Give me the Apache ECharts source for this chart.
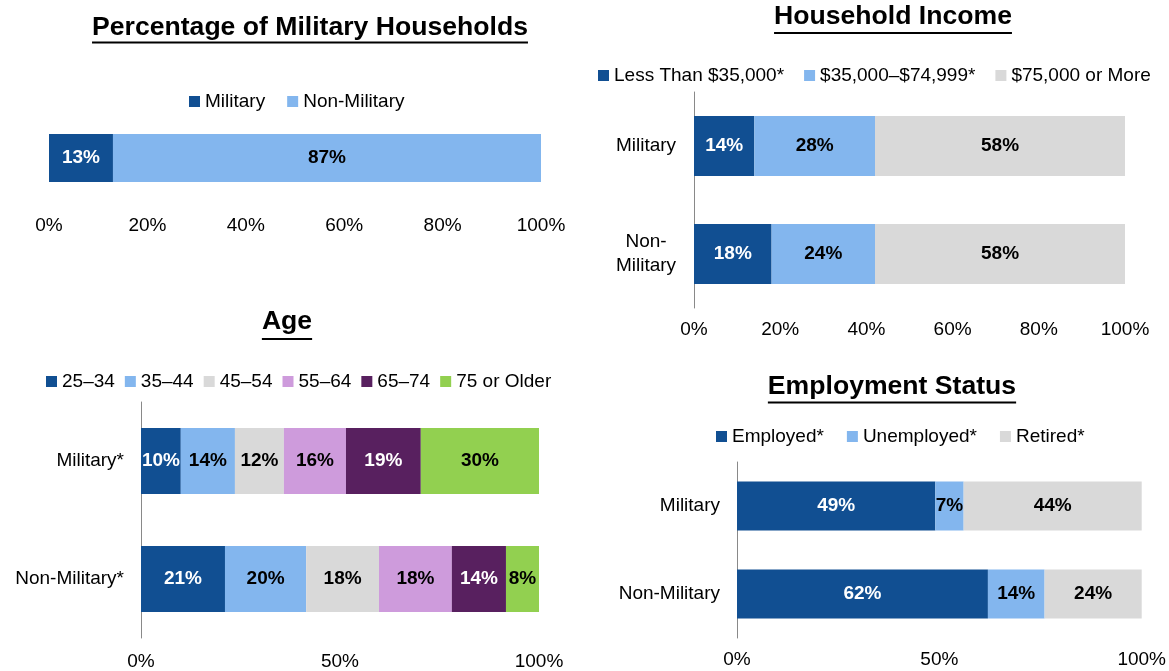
<!DOCTYPE html>
<html>
<head>
<meta charset="utf-8">
<title>Military vs Non-Military Households</title>
<script src="https://cdn.jsdelivr.net/npm/echarts@6/dist/echarts.min.js"></script>
<style>
  html, body { margin: 0; padding: 0; background: #fff; }
  #main { width: 1169px; height: 671px; }
</style>
</head>
<body>
<div id="main"></div>
<script>
// ---- data ----
const shareNames = ["Military", "Non-Military"];
const shareValues = [13, 87];
const shareTicks = [0, 20, 40, 60, 80, 100];

const incomeCategories = ["Military", "Non-\nMilitary"];
const incomeNames = ["Less Than $35,000*", "$35,000–$74,999*", "$75,000 or More"];
const incomeLow = [14, 18];
const incomeMid = [28, 24];
const incomeHigh = [58, 58];
const incomeTicks = [0, 20, 40, 60, 80, 100];

const ageCategories = ["Military*", "Non-Military*"];
const ageNames = ["25–34", "35–44", "45–54", "55–64", "65–74", "75 or Older"];
const age25 = [10.0, 21.1];
const age35 = [13.6, 20.4];
const age45 = [12.3, 18.3];
const age55 = [15.6, 18.3];
const age65 = [18.8, 13.6];
const age75 = [29.7, 8.3];
const ageTicks = [0, 50, 100];

const jobCategories = ["Military", "Non-Military"];
const jobNames = ["Employed*", "Unemployed*", "Retired*"];
const jobEmployed = [49, 62];
const jobUnemployed = [7, 14];
const jobRetired = [44, 24];
const jobTicks = [0, 50, 100];

// ---- styles ----
const FONT = '"Liberation Sans", Arial, sans-serif';
const FS = 19;
const DARK_BLUE = "#114f92";
const LIGHT_BLUE = "#83b6ee";
const GREY = "#d9d9d9";
const LILAC = "#ce9bdc";
const PURPLE = "#58205f";
const GREEN = "#92d050";
const darkFill = [DARK_BLUE, PURPLE];

const chart = echarts.init(document.getElementById("main"));

// 一组堆叠条形
function stackSeries(names, values, colors, idx, barWidth) {
  return names.map((name, i) => ({
    name: name,
    type: "bar",
    stack: "s" + idx,
    xAxisIndex: idx,
    yAxisIndex: idx,
    barWidth: barWidth,
    data: values[i],
    itemStyle: { color: colors[i] },
    label: {
      show: true,
      position: "inside",
      formatter: p => Math.round(p.value) + "%",
      color: darkFill.includes(colors[i]) ? "#fff" : "#000",
      fontWeight: "bold",
      fontSize: FS,
      fontFamily: FONT
    },
    emphasis: { disabled: true }
  }));
}

function xAxis(idx, ticks, margin) {
  return {
    gridIndex: idx,
    type: "value",
    min: ticks[0],
    max: ticks[ticks.length - 1],
    interval: ticks[1] - ticks[0],
    axisLine: { show: false },
    axisTick: { show: false },
    splitLine: { show: false },
    axisLabel: {
      formatter: "{value}%",
      color: "#000",
      fontSize: FS,
      fontFamily: FONT,
      margin: margin
    }
  };
}

function yAxis(idx, cats, margin, align) {
  return {
    gridIndex: idx,
    type: "category",
    inverse: true,
    data: cats,
    axisLine: { show: idx !== 0, lineStyle: { color: "#898989", width: 1 } },
    axisTick: { show: false },
    axisLabel: {
      show: idx !== 0,
      color: "#000",
      fontSize: FS,
      lineHeight: 24,
      fontFamily: FONT,
      margin: margin,
      align: align
    }
  };
}

function legend(names, left, top, gap) {
  return {
    data: names,
    left: left,
    top: top,
    icon: "rect",
    itemWidth: 11,
    itemHeight: 11,
    itemGap: gap,
    selectedMode: false,
    textStyle: { color: "#000", fontSize: FS, fontFamily: FONT, padding: [0, 0, 0, 0] }
  };
}

// 带下划线的标题
const TITLE_FONT = "bold 26.6px " + FONT;
const measure = document.createElement("canvas").getContext("2d");
measure.font = TITLE_FONT;
function titleGraphic(text, cx, cy, lineY) {
  const w = measure.measureText(text).width;
  return [
    {
      type: "text",
      x: cx,
      y: cy,
      style: { text: text, font: TITLE_FONT, fill: "#000", textAlign: "center", textVerticalAlign: "middle" }
    },
    {
      type: "rect",
      shape: { x: cx - w / 2, y: lineY, width: w, height: 2 },
      style: { fill: "#000" }
    }
  ];
}

let option = {
  animation: false,
  backgroundColor: "#fff",
  graphic: [].concat(
    titleGraphic("Percentage of Military Households", 310, 28, 41.5),
    titleGraphic("Household Income", 893, 17, 32),
    titleGraphic("Age", 287, 322, 338),
    titleGraphic("Employment Status", 892, 387, 401.5)
  ),
  legend: [
    legend(shareNames, 184, 87, 22),
    legend(incomeNames, 593, 61, 20),
    legend(ageNames, 41, 367, 10),
    legend(jobNames, 711, 422, 23)
  ],
  grid: [
    { left: 49, right: 628, top: 134, height: 48 },
    { left: 694, right: 44, top: 92, height: 216 },
    { left: 141, right: 630, top: 402, height: 236 },
    { left: 737, right: 25, top: 462, height: 176 }
  ],
  xAxis: [
    xAxis(0, shareTicks, 34),
    xAxis(1, incomeTicks, 12),
    xAxis(2, ageTicks, 14),
    xAxis(3, jobTicks, 12)
  ],
  yAxis: [
    yAxis(0, ["Households"], 0, "right"),
    yAxis(1, incomeCategories, 48, "center"),
    yAxis(2, ageCategories, 17, "right"),
    yAxis(3, jobCategories, 17, "right")
  ],
  series: [].concat(
    stackSeries(shareNames, shareValues.map(v => [v]), [DARK_BLUE, LIGHT_BLUE], 0, 48),
    stackSeries(incomeNames, [incomeLow, incomeMid, incomeHigh], [DARK_BLUE, LIGHT_BLUE, GREY], 1, 60),
    stackSeries(ageNames, [age25, age35, age45, age55, age65, age75],
      [DARK_BLUE, LIGHT_BLUE, GREY, LILAC, PURPLE, GREEN], 2, 66),
    stackSeries(jobNames, [jobEmployed, jobUnemployed, jobRetired], [DARK_BLUE, LIGHT_BLUE, GREY], 3, 49)
  )
};

chart.setOption(option);
window.addEventListener("resize", () => chart.resize());
</script>
</body>
</html>
